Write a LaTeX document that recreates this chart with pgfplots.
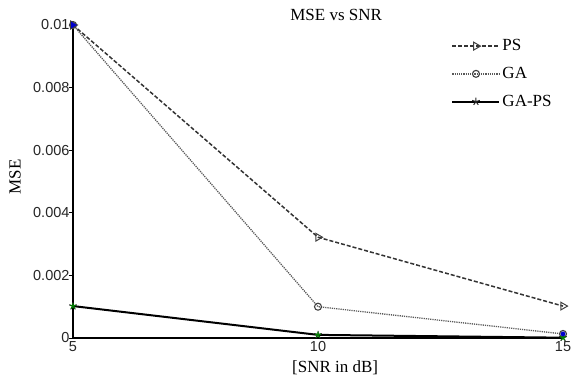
\documentclass[border=0pt]{standalone}
\usepackage{pgfplots}
\pgfplotsset{compat=1.18}
\usepackage{fontspec}
\setmainfont{Liberation Serif}
\setsansfont{Liberation Sans}
\begin{document}
\begin{tikzpicture}
\begin{axis}[
  scale only axis, width=490pt, height=313pt,
  xmin=5, xmax=15, ymin=0, ymax=0.01,
  clip=false,
  axis x line*=bottom, axis y line*=left,
  axis line style={line width=1.6pt, black},
  xtick={5,10,15}, xticklabels={5,10,15},
  ytick={0,0.002,0.004,0.006,0.008,0.01},
  yticklabels={0,0.002,0.004,0.006,0.008,0.01},
  scaled y ticks=false,
  tick align=outside,
  major tick length=4.5pt,
  x tick style={draw=none},
  y tick style={draw=black, line width=0.8pt},
  ticklabel style={font=\sffamily\fontsize{14.5}{16}\selectfont, text=black!85},
  yticklabel style={xshift=4.5pt},
  xticklabel style={yshift=4.5pt},
  title={MSE vs SNR},
  title style={at={(axis description cs:0.537,1)}, anchor=base, yshift=-1pt, font=\fontsize{17}{19}\selectfont},
  xlabel={[SNR in dB]},
  ylabel={MSE},
  every axis x label/.style={at={(axis description cs:0.535,0)}, anchor=center, yshift=-30pt, font=\fontsize{17}{19}\selectfont},
  every axis y label/.style={at={(axis description cs:-0.118,0.515)}, anchor=center, rotate=90, font=\fontsize{17}{19}\selectfont},
  legend style={draw=none, fill=none, at={(axis description cs:0.772,0.96)}, anchor=north west,
    font=\fontsize{17}{19}\selectfont, row sep=11pt, inner sep=0pt},
  legend cell align=left,
  legend image code/.code={\draw[mark repeat=2,mark phase=2,#1] plot coordinates {(0pt,0pt) (23.5pt,0pt) (47pt,0pt)};},
]
\coordinate (sw) at (rel axis cs:0,0);
\coordinate (ne) at (rel axis cs:1,1);
\addplot[black!80, line width=1.5pt, dash pattern=on 4pt off 2pt,
  mark=triangle, mark size=4.5pt, mark options={solid, rotate=-90, black!75, line width=1pt}]
  coordinates {(5,0.01) (10,0.00322) (15,0.00102)};
\addlegendentry{PS}
\addplot[black!65, line width=1.3pt, dash pattern=on 1.2pt off 1pt,
  mark=o, mark size=3.5pt, mark options={solid, black!75, line width=1.1pt}]
  coordinates {(5,0.01) (10,0.001) (15,0.00013)};
\addlegendentry{GA}
\addplot[black, line width=2pt,
  mark=star, mark size=4pt, mark options={solid, black!85, line width=1pt}]
  coordinates {(5,0.00102) (10,0.0001) (15,0.00001)};
\addlegendentry{GA-PS}
\addplot[only marks, mark=star, mark size=3pt, mark options={green!50!black, line width=1.2pt}, forget plot]
  coordinates {(5,0.00102) (10,0.0001) (15,0.00001)};
\addplot[only marks, mark=triangle*, mark size=3.5pt, mark options={rotate=-90, blue!80!black}, forget plot]
  coordinates {(5,0.01)};
\addplot[only marks, mark=*, mark size=2.2pt, mark options={blue!80!black}, forget plot]
  coordinates {(15,0.00013)};
\end{axis}
\pgfresetboundingbox
\path ([shift={(-73pt,-43pt)}]sw) rectangle ([shift={(11pt,25pt)}]ne);
\end{tikzpicture}
\end{document}
